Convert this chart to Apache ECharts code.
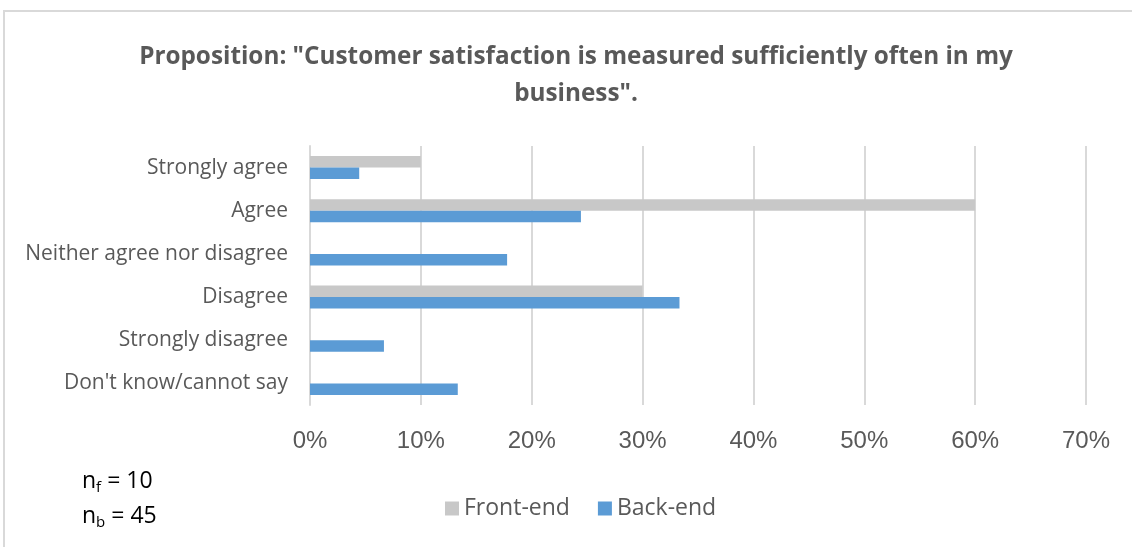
<!DOCTYPE html>
<html>
<head>
<meta charset="utf-8">
<script src="https://cdn.jsdelivr.net/npm/echarts@6/dist/echarts.min.js"></script>
<style>
  html, body { margin: 0; padding: 0; background: #fff; }
  #chart { width: 1132px; height: 547px; }
</style>
</head>
<body>
<div id="chart"></div>
<script>
// Survey answers, top to bottom
const categories = [
  'Strongly agree',
  'Agree',
  'Neither agree nor disagree',
  'Disagree',
  'Strongly disagree',
  "Don't know/cannot say"
];
// Share of respondents (%)
const frontEnd = [10, 60, 0, 30, 0, 0];
const backEnd = [4.44, 24.44, 17.78, 33.33, 6.67, 13.33];
const seriesNames = ['Front-end', 'Back-end'];
const xTicks = [0, 10, 20, 30, 40, 50, 60, 70];
const sampleSizes = { f: 10, b: 45 };

const textGray = '#595959';
const bodyFont = 'Open Sans';
const chart = echarts.init(document.getElementById('chart'));

const sampleLabel = (sub, n) => ({
  text: '{n|n}{s|' + sub + '}{n| = ' + n + '}',
  rich: {
    n: { fontFamily: bodyFont, fontSize: 23, fill: '#000' },
    s: { fontFamily: bodyFont, fontSize: 15, fill: '#000', padding: [12, 0, 0, 0] }
  }
});

chart.setOption({
  animation: false,
  backgroundColor: '#ffffff',
  title: {
    text: 'Proposition: "Customer satisfaction is measured sufficiently often in my\nbusiness".',
    left: 571,
    top: 34,
    textAlign: 'center',
    textStyle: {
      fontFamily: bodyFont,
      fontWeight: 'bold',
      fontSize: 24.3,
      color: textGray,
      lineHeight: 37
    }
  },
  legend: {
    data: seriesNames,
    left: 440,
    top: 492,
    itemWidth: 14,
    itemHeight: 14,
    itemGap: 28,
    icon: 'rect',
    textStyle: { fontFamily: bodyFont, fontSize: 23, color: textGray, padding: [0, 0, 0, 0] }
  },
  grid: { left: 310, right: 46, top: 146, bottom: 142, containLabel: false },
  xAxis: {
    type: 'value',
    min: xTicks[0],
    max: xTicks[xTicks.length - 1],
    interval: 10,
    axisLine: { show: false },
    axisTick: { show: false },
    splitLine: { lineStyle: { color: '#d9d9d9', width: 2 } },
    axisLabel: {
      formatter: v => v + '%',
      fontFamily: 'Liberation Sans',
      fontSize: 24,
      color: textGray,
      margin: 24
    }
  },
  yAxis: {
    type: 'category',
    data: categories,
    inverse: true,
    axisLine: { show: true, lineStyle: { color: '#d9d9d9', width: 2 } },
    axisTick: { show: false },
    axisLabel: {
      fontFamily: bodyFont,
      fontSize: 21,
      color: textGray,
      margin: 22
    }
  },
  series: [
    {
      name: seriesNames[0],
      type: 'bar',
      data: frontEnd,
      barWidth: 11.5,
      barGap: '0%',
      itemStyle: { color: '#c8c8c8' }
    },
    {
      name: seriesNames[1],
      type: 'bar',
      data: backEnd,
      barWidth: 11.5,
      barGap: '0%',
      itemStyle: { color: '#5b9bd5' }
    }
  ],
  graphic: [
    {
      type: 'polyline',
      shape: { points: [[4, 547], [4, 11], [1132, 11]] },
      style: { stroke: '#d9d9d9', lineWidth: 2, fill: null }
    },
    { type: 'text', left: 82, top: 470, style: sampleLabel('f', sampleSizes.f) },
    { type: 'text', left: 82, top: 505, style: sampleLabel('b', sampleSizes.b) }
  ]
});
</script>
</body>
</html>
